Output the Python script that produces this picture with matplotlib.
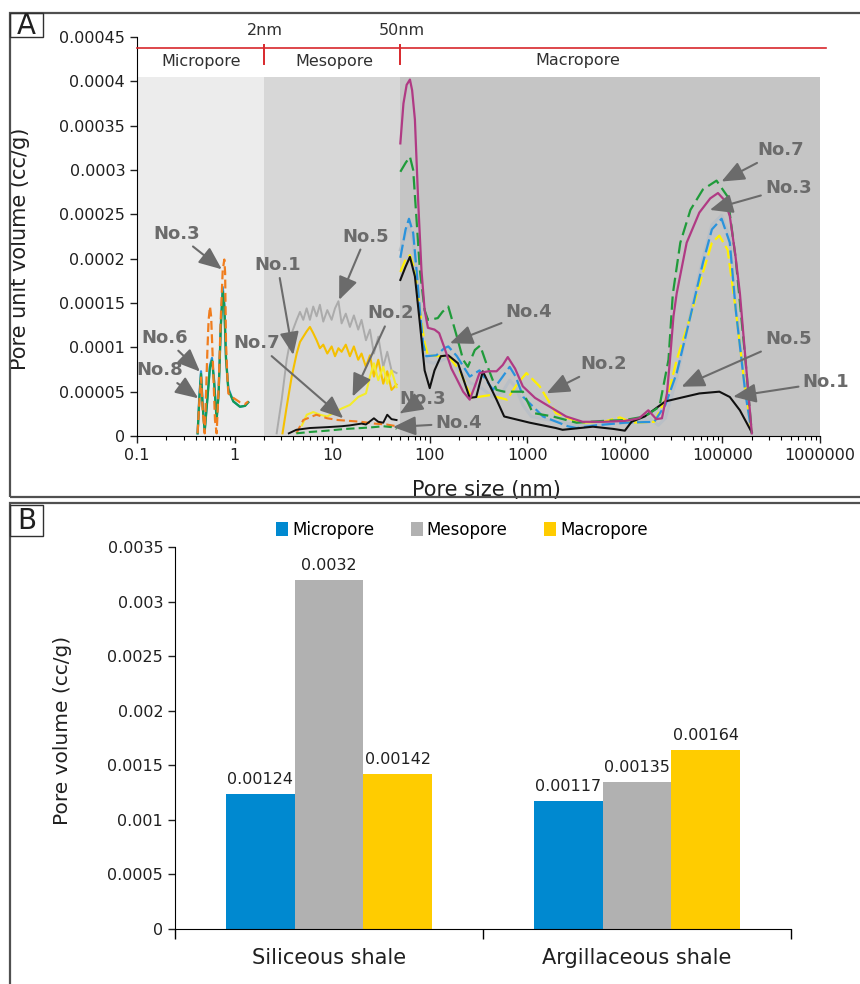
import numpy as np
import matplotlib
matplotlib.use("Agg")
import matplotlib.pyplot as plt
from matplotlib.patches import Rectangle, Patch

plt.rcParams['font.family'] = ['DejaVu Sans']

E = 1e-5  # y values below are in 1e-5 cc/g

# ---------------- Panel A data (x: pore size nm, y: 1e-5 cc/g) ----------------
# Macropore region curves
no3_macro_x = [50, 53.8, 58, 62.7, 66, 70.5, 76.3, 82.3, 88.7, 95.9, 112, 125, 141, 167, 188, 220, 257, 290,
               324, 400, 484, 560, 631, 750, 900, 1200, 1700, 2500, 3700, 6000, 10000, 14000, 17400, 21000,
               24000, 27000, 29000, 31500, 34000, 43000, 58000, 75000, 90000, 105000, 119000, 135000,
               151000, 175000, 200000]
no3_macro_y = [33.0, 37.5, 39.6, 40.2, 39.0, 35.7, 26.3, 18.7, 14.2, 12.2, 12.0, 11.6, 10.0, 7.6, 6.5, 5.0,
               4.1, 5.6, 7.1, 7.3, 7.3, 8.0, 8.9, 7.6, 5.6, 4.3, 3.3, 2.2, 1.6, 1.6, 1.7, 2.0, 2.9, 1.9,
               2.0, 4.8, 8.6, 13.5, 16.1, 21.8, 25.2, 26.8, 27.4, 26.6, 24.8, 20.6, 16.1, 7.8, 0.3]

no7_macro_x = [50, 56.6, 62.7, 67.7, 73.3, 79.3, 88.7, 95.9, 110, 121, 135, 155, 190, 220, 246, 290, 329,
               380, 484, 580, 900, 1140, 1830, 3200, 6000, 10000, 16000, 22600, 28000, 31000, 37000, 47000,
               63000, 87000, 113000, 137000, 172000, 200000]
no7_macro_y = [29.8, 30.8, 31.5, 30.0, 24.4, 18.7, 14.2, 13.1, 13.2, 13.3, 14.0, 14.6, 11.2, 8.6, 7.8, 9.7,
               10.2, 8.2, 5.2, 5.0, 5.0, 2.6, 2.2, 1.5, 1.7, 1.8, 2.2, 3.3, 8.6, 16.0, 21.8, 25.5, 27.8,
               28.8, 27.0, 19.9, 8.6, 0.3]

no4_macro_x = [50, 56.6, 61.3, 67.7, 73.3, 79.3, 85.4, 92.1, 117, 141, 155, 190, 257, 324, 445, 560, 660,
               760, 910, 1450, 2600, 3200, 5000, 10000, 20000, 26000, 34000, 47000, 63000, 78000, 98000,
               119000, 137000, 172000, 200000]
no4_macro_y = [20.1, 23.3, 24.5, 22.9, 18.7, 14.2, 10.5, 9.0, 9.1, 9.9, 10.1, 9.0, 6.7, 7.4, 5.2, 6.7, 7.8,
               6.7, 4.4, 2.2, 1.1, 0.9, 1.2, 1.5, 1.6, 3.5, 7.1, 13.5, 19.5, 23.3, 24.5, 21.8, 14.2, 4.8,
               0.3]

no5_macro_x = [50, 56.6, 61.3, 67.7, 73.3, 79.3, 85.4, 95, 110, 130, 160, 200, 260, 330, 445, 560, 660, 760,
               900, 1100, 1500, 3000, 6000, 12000, 18000, 22000, 26000, 34000, 47000, 63000, 78000, 98000,
               119000, 137000, 172000, 200000]
no5_macro_y = [21.0, 22.8, 23.6, 22.0, 17.8, 13.5, 10.0, 8.4, 8.2, 8.5, 8.9, 7.4, 6.0, 5.5, 4.4, 5.0, 6.3,
               5.5, 3.5, 2.2, 1.9, 1.3, 1.4, 1.5, 2.0, 1.2, 2.0, 6.5, 13.8, 20.0, 23.8, 24.9, 22.3, 14.5,
               5.0, 0.3]

no2_macro_x = [50, 56.6, 62.7, 70.5, 79.3, 88.7, 95.9, 121, 155, 203, 240, 270, 410, 620, 780, 980, 1340,
               1960, 3400, 6000, 8900, 12000, 20000, 28000, 34000, 47000, 63000, 78000, 93000, 113000,
               137000, 165000, 200000]
no2_macro_y = [18.5, 19.9, 20.4, 18.7, 14.2, 10.5, 9.1, 9.0, 9.0, 7.4, 5.5, 4.3, 4.6, 4.1, 5.8, 7.1, 5.6,
               2.6, 1.5, 1.6, 2.1, 1.5, 1.6, 4.8, 8.6, 13.5, 18.4, 21.8, 22.6, 21.0, 14.2, 6.7, 0.3]

no1_macro_x = [50, 56.6, 62.7, 70.5, 79.3, 88.7, 100, 112, 130, 155, 195, 257, 300, 350, 484, 580, 1060,
               1960, 2300, 4700, 7600, 10000, 11700, 16000, 26000, 37000, 58000, 93000, 119000, 151000,
               200000]
no1_macro_y = [17.6, 19.1, 20.2, 18.0, 12.7, 7.4, 5.4, 7.4, 9.0, 9.1, 8.2, 4.3, 4.4, 7.3, 4.1, 2.2, 1.5,
               0.9, 0.7, 1.05, 0.8, 0.6, 1.6, 2.2, 3.9, 4.3, 4.8, 5.0, 4.4, 2.9, 0.4]

# Mesopore region curves
no5_meso_x = [2.70, 3.04, 3.42, 3.85, 4.33, 4.68, 5.06, 5.48, 5.92, 6.40, 6.93, 7.49, 8.11, 8.92, 9.88, 10.7,
              11.6, 12.5, 13.8, 15.2, 16.7, 18.5, 20.0, 22.2, 24.4, 26.8, 29.7, 33.4, 36.7, 40.6, 45.7]
no5_meso_y = [0.3, 4.1, 8.6, 11.6, 13.1, 14.0, 13.1, 14.4, 13.1, 14.6, 13.5, 14.8, 12.9, 14.2, 13.1, 14.4,
              15.2, 12.7, 13.8, 12.3, 13.6, 12.0, 13.1, 10.8, 12.0, 9.3, 11.2, 7.8, 9.5, 7.4, 7.1]

no1_meso_x = [3.10, 3.42, 3.85, 4.33, 4.68, 5.48, 5.92, 6.40, 6.93, 7.49, 8.11, 8.92, 9.88, 10.7, 11.6, 12.5,
              13.8, 15.2, 16.7, 18.5, 20.0, 22.2, 24.4, 26.8, 29.7, 33.4, 36.7, 40.6, 45.7]
no1_meso_y = [0.3, 3.3, 6.7, 9.3, 10.6, 11.8, 12.3, 11.6, 10.8, 9.9, 10.3, 9.3, 10.1, 9.0, 9.9, 9.5,
              10.3, 9.0, 10.1, 8.6, 9.3, 7.8, 9.1, 6.7, 8.6, 5.9, 7.3, 5.2, 5.8]

no2_meso_x = [4.9, 5.5, 6.4, 7.5, 8.9, 10.7, 12.5, 15.2, 18.5, 22.2, 24.4, 26.8, 29.7, 33.4, 36.7, 40.6, 45.7]
no2_meso_y = [1.2, 2.4, 2.7, 2.4, 2.2, 2.7, 3.1, 3.5, 4.4, 4.8, 6.7, 8.2, 6.3, 7.8, 5.9, 7.4, 5.5]

no7_meso_x = [4.3, 5.06, 6.9, 8.9, 11.5, 15.2, 20.0, 27.0, 36.0, 46.0]
no7_meso_y = [0.3, 1.8, 2.4, 2.0, 1.8, 1.7, 1.6, 1.4, 1.3, 1.1]

no3_meso_x = [3.6, 4.3, 5.9, 8.9, 12.5, 15.2, 20.0, 22.2, 26.8, 29.7, 33.4, 36.7, 40.6, 45.7]
no3_meso_y = [0.3, 0.7, 0.9, 1.0, 1.1, 1.2, 1.4, 1.3, 2.0, 1.6, 1.5, 2.4, 1.9, 1.8]

no4_meso_x = [4.3, 5.9, 8.9, 13.8, 20.0, 26.8, 33.4, 40.6, 45.7]
no4_meso_y = [0.3, 0.45, 0.6, 0.8, 0.9, 1.0, 1.1, 1.0, 0.8]

# Micropore region curves
micro_x = [0.418, 0.435, 0.453, 0.471, 0.494, 0.526, 0.560, 0.587, 0.615, 0.655, 0.687, 0.721, 0.756,
           0.785, 0.817, 0.863, 0.971, 1.135, 1.28, 1.38]
no8_micro_y = [0.3, 4.1, 7.0, 3.3, 0.5, 4.1, 7.8, 8.5, 6.3, 1.8, 4.8, 12.0, 16.3, 14.6, 8.6, 5.2, 3.9, 3.3,
               3.4, 3.8]
no6_micro_y = [0.3, 4.4, 7.3, 3.6, 0.6, 4.3, 8.0, 8.8, 6.5, 1.9, 5.0, 12.4, 16.8, 15.0, 8.9, 5.4, 3.9, 3.3,
               3.4, 3.8]
no3_micro_x = [0.418, 0.435, 0.453, 0.471, 0.494, 0.510, 0.526, 0.542, 0.560, 0.575, 0.600, 0.630, 0.655,
               0.687, 0.721, 0.756, 0.785, 0.800, 0.817, 0.840, 0.863, 0.971, 1.135, 1.28, 1.38]
no3_micro_y = [0.3, 3.8, 6.6, 3.0, 0.3, 4.8, 9.5, 13.1, 14.6, 13.5, 8.2, 1.8, 0.3, 5.5, 13.1, 18.7, 19.9,
               18.4, 10.5, 7.1, 4.8, 4.3, 3.8, 3.6, 3.9]

a_yticks = [0, 0.00005, 0.0001, 0.00015, 0.0002, 0.00025, 0.0003, 0.00035, 0.0004, 0.00045]
a_yticklabels = ["0", "0.00005", "0.0001", "0.00015", "0.0002", "0.00025", "0.0003", "0.00035", "0.0004",
                 "0.00045"]
a_xticks = [0.1, 1, 10, 100, 1000, 10000, 100000, 1000000]
a_xticklabels = ["0.1", "1", "10", "100", "1000", "10000", "100000", "1000000"]

# ---------------- Panel B data ----------------
shale_types = ["Siliceous shale", "Argillaceous shale"]
pore_classes = ["Micropore", "Mesopore", "Macropore"]
micropore_vol = [0.00124, 0.00117]
mesopore_vol = [0.0032, 0.00135]
macropore_vol = [0.00142, 0.00164]
b_yticks = [0, 0.0005, 0.001, 0.0015, 0.002, 0.0025, 0.003, 0.0035]
b_yticklabels = ["0", "0.0005", "0.001", "0.0015", "0.002", "0.0025", "0.003", "0.0035"]

# ---------------- Figure ----------------
W, H = 860, 984
fig = plt.figure(figsize=(W / 100, H / 100), dpi=100)

def fx(px):
    return px / W

def fy(py):
    return 1 - py / H

# Panel frames
fig.add_artist(Rectangle((fx(10), fy(497)), 1.05, fy(13) - fy(497), transform=fig.transFigure,
                         fill=False, ec='#505050', lw=1.6))
fig.add_artist(Rectangle((fx(10), -0.05), 1.05, fy(503) + 0.05, transform=fig.transFigure,
                         fill=False, ec='#505050', lw=1.6))
fig.add_artist(Rectangle((fx(10), fy(37)), fx(33), fy(13) - fy(37), transform=fig.transFigure,
                         fill=False, ec='#303030', lw=1.0))
fig.add_artist(Rectangle((fx(10), fy(536)), fx(33), fy(505) - fy(536), transform=fig.transFigure,
                         fill=False, ec='#303030', lw=1.0))
fig.text(fx(26.5), fy(25.5), "A", fontsize=20, ha='center', va='center', color='#202020')
fig.text(fx(26.5), fy(521), "B", fontsize=20, ha='center', va='center', color='#202020')

# ---------------- Panel A ----------------
axA = fig.add_axes([fx(137), fy(436), fx(820) - fx(137), fy(37) - fy(436)])
axA.set_xscale('log')
axA.set_xlim(0.1, 1e6)
axA.set_ylim(0, 0.00045)
shade_top = 0.000405 / 0.00045
axA.axvspan(0.1, 2, ymin=0, ymax=shade_top, color='#ececec', lw=0, zorder=0)
axA.axvspan(2, 50, ymin=0, ymax=shade_top, color='#d7d7d7', lw=0, zorder=0)
axA.axvspan(50, 1e6, ymin=0, ymax=shade_top, color='#c5c5c5', lw=0, zorder=0)

# red scale bar
red = '#d8282c'
axA.plot([0.1, 1.15e6], [0.0004376, 0.0004376], color=red, lw=1.2, clip_on=False, zorder=3)
for bx in (2, 50):
    axA.plot([bx, bx], [0.000419, 0.000441], color=red, lw=1.4, clip_on=False, zorder=3)
axA.text(2.05, 0.000457, "2nm", ha='center', va='center', fontsize=11.5, color='#303030', clip_on=False)
axA.text(52, 0.000457, "50nm", ha='center', va='center', fontsize=11.5, color='#303030', clip_on=False)
axA.text(0.45, 0.000422, "Micropore", ha='center', va='center', fontsize=11.5, color='#303030')
axA.text(10.5, 0.000422, "Mesopore", ha='center', va='center', fontsize=11.5, color='#303030')
axA.text(3300, 0.000423, "Macropore", ha='center', va='center', fontsize=11.5, color='#303030')

# micropore curves
axA.plot(micro_x, np.array(no6_micro_y) * E, color='#2a93dc', lw=1.6, zorder=4)
axA.plot(micro_x, np.array(no8_micro_y) * E, color='#139a55', lw=1.6, zorder=5)
axA.plot(no3_micro_x, np.array(no3_micro_y) * E, color='#f07d1e', lw=1.6, ls=(0, (4, 2)), zorder=6)

# mesopore curves
axA.plot(no5_meso_x, np.array(no5_meso_y) * E, color='#ababab', lw=1.4, zorder=4)
axA.plot(no1_meso_x, np.array(no1_meso_y) * E, color='#f5c000', lw=1.5, zorder=5)
axA.plot(no2_meso_x, np.array(no2_meso_y) * E, color='#f4ec2a', lw=1.5, zorder=5)
axA.plot(no7_meso_x, np.array(no7_meso_y) * E, color='#f07d1e', lw=1.5, ls=(0, (4, 2)), zorder=6)
axA.plot(no4_meso_x, np.array(no4_meso_y) * E, color='#1f9b3a', lw=1.5, ls=(0, (4, 2)), zorder=6)
axA.plot(no3_meso_x, np.array(no3_meso_y) * E, color='#111111', lw=1.4, zorder=7)

# macropore curves
axA.plot(no5_macro_x, np.array(no5_macro_y) * E, color='#b9bfc6', lw=2.2, zorder=4)
axA.plot(no2_macro_x, np.array(no2_macro_y) * E, color='#fff000', lw=1.6, ls=(0, (6, 2)), zorder=5)
axA.plot(no4_macro_x, np.array(no4_macro_y) * E, color='#2a93dc', lw=1.6, ls=(0, (6, 2)), zorder=6)
axA.plot(no1_macro_x, np.array(no1_macro_y) * E, color='#111111', lw=1.5, zorder=7)
axA.plot(no7_macro_x, np.array(no7_macro_y) * E, color='#1f9b3a', lw=1.6, ls=(0, (6, 2.5)), zorder=8)
axA.plot(no3_macro_x, np.array(no3_macro_y) * E, color='#b03a84', lw=1.6, zorder=9)

# annotations
ann_color = '#6b6b6b'
annotations = [
    ("No.3", (0.74, 1.88e-4), (0.257, 2.28e-4)),
    ("No.6", (0.442, 7.26e-5), (0.194, 1.106e-4)),
    ("No.8", (0.4245, 4.25e-5), (0.172, 7.39e-5)),
    ("No.1", (3.99, 9.14e-5), (2.75, 1.93e-4)),
    ("No.5", (11.8, 1.535e-4), (22.2, 2.25e-4)),
    ("No.2", (16.2, 4.44e-5), (40.0, 1.383e-4)),
    ("No.7", (13.0, 2.0e-5), (1.70, 1.044e-4)),
    ("No.3", (49.5, 2.56e-5), (84.1, 4.12e-5)),
    ("No.4", (42.0, 1.0e-5), (199, 1.43e-5)),
    ("No.4", (161, 1.046e-4), (1038, 1.394e-4)),
    ("No.2", (1577, 4.82e-5), (6095, 8.07e-5)),
    ("No.7", (97800, 2.87e-4), (396000, 3.22e-4)),
    ("No.3", (74300, 2.55e-4), (473000, 2.80e-4)),
    ("No.5", (38100, 5.56e-5), (473000, 1.089e-4)),
    ("No.1", (128800, 4.44e-5), (1.15e6, 6.04e-5)),
]
for label, tip, txt in annotations:
    axA.annotate(label, xy=tip, xytext=txt, ha='center', va='center', fontsize=13, fontweight='bold',
                 color=ann_color, zorder=20, annotation_clip=False,
                 arrowprops=dict(arrowstyle='-|>,head_length=1.0,head_width=0.42', color=ann_color,
                                 lw=1.5, mutation_scale=14, shrinkA=1, shrinkB=0))

axA.set_yticks(a_yticks)
axA.set_yticklabels(a_yticklabels)
axA.set_xticks(a_xticks)
axA.set_xticklabels(a_xticklabels)
axA.tick_params(axis='both', which='major', direction='out', length=5, width=1, labelsize=11.5,
                colors='#202020')
axA.tick_params(axis='x', which='minor', direction='out', length=3, width=0.8)
axA.spines['top'].set_visible(False)
axA.spines['right'].set_visible(False)
axA.set_xlabel("Pore size (nm)", fontsize=15, color='#202020')
axA.set_ylabel("Pore unit volume (cc/g)", fontsize=15, color='#202020')
axA.xaxis.set_label_coords(0.512, -0.11)
axA.yaxis.set_label_coords(-0.157, 0.47)

# ---------------- Panel B ----------------
axB = fig.add_axes([fx(175), fy(929), fx(791) - fx(175), fy(547) - fy(929)])
xpos = np.arange(len(shale_types))
bw = 0.224
colors = ['#0089d0', '#b1b1b1', '#ffcc00']
series = [micropore_vol, mesopore_vol, macropore_vol]
for i, (vals, c, name) in enumerate(zip(series, colors, pore_classes)):
    bars = axB.bar(xpos + (i - 1) * bw, vals, width=bw, color=c, label=name, zorder=2)
    axB.bar_label(bars, labels=[f"{v:g}" for v in vals], padding=5, fontsize=11.5, color='#202020')

axB.set_xlim(-0.5, 1.5)
axB.set_ylim(0, 0.0035)
axB.set_yticks(b_yticks)
axB.set_yticklabels(b_yticklabels)
axB.set_xticks([-0.5, 0.5, 1.5])
axB.set_xticklabels(["", "", ""])
axB.set_xticks(xpos, minor=True)
axB.set_xticklabels(shale_types, minor=True)
axB.tick_params(axis='x', which='major', direction='out', length=7, width=1)
axB.tick_params(axis='x', which='minor', length=0, pad=14, labelsize=15, labelcolor='#202020')
axB.tick_params(axis='y', direction='out', length=5, width=1, labelsize=11.5, colors='#202020')
axB.spines['top'].set_visible(False)
axB.spines['right'].set_visible(False)
axB.set_ylabel("Pore volume (cc/g)", fontsize=14.5, color='#202020')
axB.yaxis.set_label_coords(-0.167, 0.52)

handles = [Patch(facecolor=c, edgecolor='none', label=n) for c, n in zip(colors, pore_classes)]
fig.legend(handles=handles, loc='center', bbox_to_anchor=(fx(462), fy(530)), ncol=3, frameon=False,
           fontsize=12, handlelength=0.7, handleheight=0.9, handletextpad=0.25, columnspacing=2.2)

fig.savefig("out.png", dpi=100)
